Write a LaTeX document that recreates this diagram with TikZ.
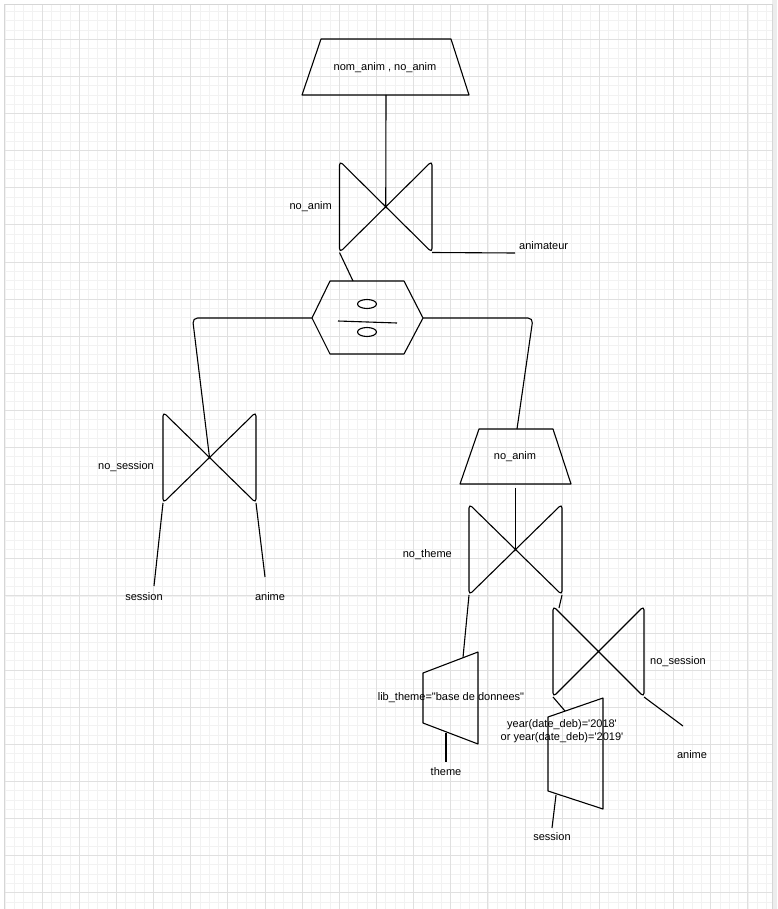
\documentclass[tikz,border=0pt]{standalone}
\usepackage{fontspec}
\setmainfont{Liberation Sans}
\begin{document}
\begin{tikzpicture}[x=1pt,y=-1pt,
  shp/.style={draw=black,line width=1.1pt,line join=round},
  con/.style={draw=black,line width=1.1pt,rounded corners=5pt},
  lbl/.style={inner sep=0pt,font=\fontsize{11}{13}\selectfont,text=black},
  minorg/.style={draw=black!5,line width=0.6pt},
  majorg/.style={draw=black!12,line width=0.8pt}]
\useasboundingbox (0,0) rectangle (777,909);
\fill[white] (0,0) rectangle (777,909);
% grid
\begin{scope}
\clip (5,5) rectangle (772,909);
\foreach \i in {0,...,83} {\draw[minorg] ({4.85+\i*9.2875},0) -- ({4.85+\i*9.2875},909);}
\foreach \i in {0,...,99} {\draw[minorg] (0,{2.2+\i*9.275}) -- (777,{2.2+\i*9.275});}
\foreach \i in {0,...,21} {\draw[majorg] ({4.85+\i*37.15},0) -- ({4.85+\i*37.15},909);}
\foreach \i in {0,...,25} {\draw[majorg] (0,{2.2+\i*37.1}) -- (777,{2.2+\i*37.1});}
\end{scope}
\fill[black!7] (772,0) rectangle (777,909);
\draw[black!16,line width=0.8pt] (4.5,4.5) -- (4.5,909);
\draw[black!16,line width=0.8pt] (772,4.5) -- (772,909);
\draw[black!16,line width=0.8pt] (4.5,4.5) -- (772,4.5);

% ---- top projection trapezoid
\coordinate (p1-tl) at (321,39);
\coordinate (p1-tr) at (451,39);
\coordinate (p1-br) at (469,95);
\coordinate (p1-bl) at (302,95);
\coordinate (p1-b) at (386,95);
\draw[shp] (p1-tl) -- (p1-tr) -- (p1-br) -- (p1-bl) -- cycle;
\node[lbl] (p1) at (385,68) {nom\_anim , no\_anim};

% ---- bowtie 1 (join)
\coordinate (j1-tl) at (339.5,161);
\coordinate (j1-tr) at (432,161);
\coordinate (j1-br) at (432,252.5);
\coordinate (j1-bl) at (339.5,252.5);
\coordinate (j1) at (385.75,206.75);
\draw[shp,rounded corners=4pt] (j1-tl) -- (j1-br) -- (j1-tr) -- (j1-bl) -- cycle;
\node[lbl,anchor=east] (j1lbl) at (332,207) {no\_anim};
\coordinate (anim-end) at (515,253);
\node[lbl,anchor=west] (animateur) at (519,246) {animateur};
\draw[con] (p1-b) -- (j1);
\draw[con] (j1-br) -- (anim-end);

% ---- hexagon (division)
\coordinate (h-tl) at (330,281);
\coordinate (h-tr) at (404,281);
\coordinate (h-r) at (423,318);
\coordinate (h-br) at (404,354);
\coordinate (h-bl) at (330,354);
\coordinate (h-l) at (312,318);
\coordinate (h-t) at (353,281);
\draw[shp] (h-tl) -- (h-tr) -- (h-r) -- (h-br) -- (h-bl) -- (h-l) -- cycle;
\draw[shp] (367,304) ellipse (9.5 and 4.5);
\draw[shp] (367,332) ellipse (9.5 and 4.5);
\coordinate (bar-l) at (338,321);
\coordinate (bar-r) at (397,323);
\draw[shp] (bar-l) -- (bar-r);
\node[inner sep=0pt] (hex) at (367,318) {};
\draw[con] (j1-bl) -- (h-t);

% ---- bowtie 2 (left)
\coordinate (j2-tl) at (163,412);
\coordinate (j2-tr) at (256,412);
\coordinate (j2-br) at (256,503);
\coordinate (j2-bl) at (163,503);
\coordinate (j2) at (209.5,457.5);
\draw[shp,rounded corners=4pt] (j2-tl) -- (j2-br) -- (j2-tr) -- (j2-bl) -- cycle;
\node[lbl,anchor=east] (j2lbl) at (154,467) {no\_session};
\coordinate (c-l) at (192.5,318);
\draw[con] (h-l) -- (c-l) -- (j2);
\coordinate (sess1-end) at (154,586);
\coordinate (anime1-end) at (265,577);
\node[lbl] (session1) at (144,597) {session};
\node[lbl] (anime1) at (270,597) {anime};
\draw[con] (j2-bl) -- (sess1-end);
\draw[con] (j2-br) -- (anime1-end);

% ---- trapezoid 2 (projection no_anim)
\coordinate (p2-tl) at (479,429);
\coordinate (p2-tr) at (553,429);
\coordinate (p2-br) at (571,484);
\coordinate (p2-bl) at (460,484);
\coordinate (p2-t) at (517,429);
\coordinate (p2-b) at (515.5,488);
\draw[shp] (p2-tl) -- (p2-tr) -- (p2-br) -- (p2-bl) -- cycle;
\node[lbl] (p2) at (515,457) {no\_anim};
\coordinate (c-r) at (533,318);
\draw[con] (h-r) -- (c-r) -- (p2-t);

% ---- bowtie 3
\coordinate (j3-tl) at (469,504);
\coordinate (j3-tr) at (562,504);
\coordinate (j3-br) at (562,595);
\coordinate (j3-bl) at (469,595);
\coordinate (j3) at (515.5,549.5);
\draw[shp,rounded corners=4pt] (j3-tl) -- (j3-br) -- (j3-tr) -- (j3-bl) -- cycle;
\node[lbl,anchor=east] (j3lbl) at (452,555) {no\_theme};
\draw[con] (p2-b) -- (j3);

% ---- bowtie 4
\coordinate (j4-tl) at (553,606);
\coordinate (j4-tr) at (644,606);
\coordinate (j4-br) at (644,697);
\coordinate (j4-bl) at (553,697);
\coordinate (j4-top) at (559,608);
\coordinate (j4) at (598.5,651.5);
\draw[shp,rounded corners=4pt] (j4-tl) -- (j4-br) -- (j4-tr) -- (j4-bl) -- cycle;
\node[lbl,anchor=west] (j4lbl) at (650,662) {no\_session};
\draw[con] (j3-br) -- (j4-top);
\coordinate (anime2-end) at (683,726);
\node[lbl] (anime2) at (692,755) {anime};
\draw[con] (j4-br) -- (anime2-end);

% ---- selection trapezoid (theme)
\coordinate (s1-tl) at (423,673);
\coordinate (s1-tr) at (478,652);
\coordinate (s1-br) at (478,744);
\coordinate (s1-bl) at (423,723);
\coordinate (s1-t) at (463,657.5);
\coordinate (s1-b) at (446,733);
\draw[shp] (s1-tl) -- (s1-tr) -- (s1-br) -- (s1-bl) -- cycle;
\node[lbl] (s1) at (451,698) {lib\_theme=\textquotedbl base de donnees\textquotedbl};
\draw[con] (j3-bl) -- (s1-t);
\coordinate (theme-end) at (446,762);
\node[lbl] (theme) at (446,772) {theme};
\draw[con] (s1-b) -- (theme-end);

% ---- selection trapezoid (session)
\coordinate (s2-tl) at (548,717);
\coordinate (s2-tr) at (603,698);
\coordinate (s2-br) at (603,809);
\coordinate (s2-bl) at (548,791);
\coordinate (s2-t) at (565,711);
\coordinate (s2-b) at (556,795);
\draw[shp] (s2-tl) -- (s2-tr) -- (s2-br) -- (s2-bl) -- cycle;
\node[lbl,align=center,font=\fontsize{11}{12.5}\selectfont] (s2) at (562,731) {year(date\_deb)=\textquotesingle 2018\textquotesingle\\or year(date\_deb)=\textquotesingle 2019\textquotesingle};
\draw[con] (j4-bl) -- (s2-t);
\coordinate (sess2-end) at (552,828);
\node[lbl] (session2) at (552,837) {session};
\draw[con] (s2-b) -- (sess2-end);
\end{tikzpicture}
\end{document}
